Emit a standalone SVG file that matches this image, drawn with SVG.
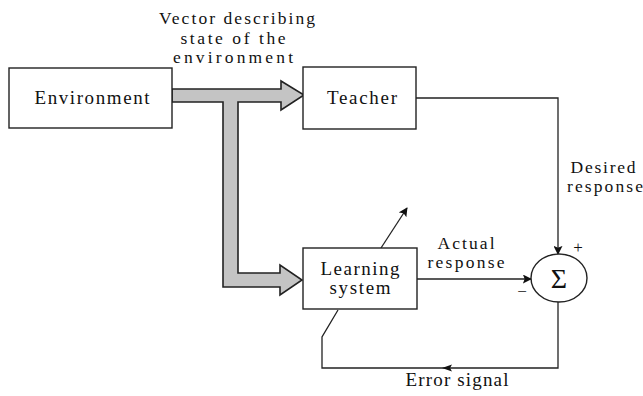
<svg xmlns="http://www.w3.org/2000/svg" width="643" height="396" viewBox="0 0 643 396">
<defs>
<style>
.box{fill:#fff;stroke:#222;stroke-width:1.4}
.ln{fill:none;stroke:#222;stroke-width:1.3}
.t{font-family:"Liberation Serif","Times New Roman",serif;font-size:19px;fill:#111}
.s{font-size:17.5px}
.c{text-anchor:middle}
.sig{font-size:28px}
.pm{font-size:17px}
</style>
<marker id="ah" viewBox="0 0 10 10" refX="9" refY="5" markerWidth="9" markerHeight="9" markerUnits="userSpaceOnUse" orient="auto">
<path d="M0,0 L10,5 L0,10 L2,5 z" fill="#111"/>
</marker>
</defs>
<rect width="643" height="396" fill="#fff"/>
<g id="connectors">
<path id="vector-arrow" d="M172,89 L281,89 L281,81 L304,95 L281,110 L281,102 L238,102 L238,273 L280,273 L280,265 L302,280 L280,295 L280,287 L223,287 L223,102 L172,102 Z" fill="#c4c4c4" stroke="#222" stroke-width="1.6" stroke-linejoin="miter"/>
<path class="ln" d="M416,98 L558,98 L558,254" marker-end="url(#ah)"/>
<path class="ln" d="M417,279 L531,279" marker-end="url(#ah)"/>
<path class="ln" d="M558,302 L558,368 L322,368 L322,337 L338,310"/>
<path d="M442,368 L452,364.5 L450,368 L452,371.5 z" fill="#111"/>
<path class="ln" d="M381,248 L407,208" marker-end="url(#ah)"/>
</g>
<g id="environment">
<rect class="box" x="9" y="68" width="163" height="60"/>
<text class="t c" x="92" y="104" textLength="115">Environment</text>
</g>
<g id="teacher">
<rect class="box" x="303" y="67" width="113" height="62"/>
<text class="t c" x="362" y="104" textLength="70">Teacher</text>
</g>
<g id="learning-system">
<rect class="box" x="303" y="248" width="114" height="61"/>
<text class="t c" x="360" y="275" textLength="79">Learning</text>
<text class="t c" x="360" y="294" textLength="61">system</text>
</g>
<g id="summer">
<ellipse cx="559" cy="278" rx="28" ry="24" fill="#fff" stroke="#222" stroke-width="1.4"/>
<text class="t c sig" x="559" y="288">Σ</text>
<text class="t c pm" x="578" y="253">+</text>
<text class="t c pm" x="522" y="297">−</text>
</g>
<g id="labels">
<text class="t s c" x="237" y="24" textLength="156">Vector describing</text>
<text class="t s c" x="233" y="44" textLength="105">state of the</text>
<text class="t s c" x="233" y="63" textLength="120">environment</text>
<text class="t s c" x="603" y="173" textLength="65">Desired</text>
<text class="t s c" x="605" y="192" textLength="76">response</text>
<text class="t s c" x="466" y="249" textLength="57">Actual</text>
<text class="t s c" x="466" y="268" textLength="77">response</text>
<text class="t c" x="457" y="386" textLength="103">Error signal</text>
</g>
</svg>
